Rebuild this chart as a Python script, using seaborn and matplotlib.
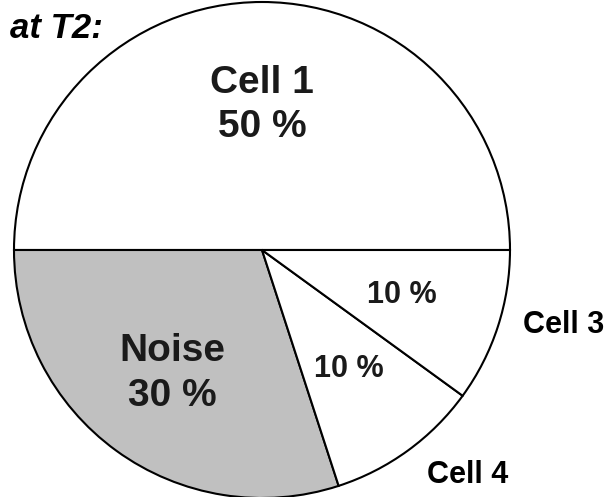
import numpy as np
import matplotlib
matplotlib.use("Agg")
import matplotlib.pyplot as plt
import seaborn as sns

# slices, counter-clockwise from 3 o'clock
names = ["Cell 1", "Noise", "Cell 4", "Cell 3"]
shares = [50, 30, 10, 10]
fills = ["white", "#c0c0c0", "white", "white"]

sns.set_theme(style="white")
plt.rcParams["font.family"] = ["Liberation Sans", "DejaVu Sans"]

fig = plt.figure(figsize=(6.15, 4.97), dpi=100)
ax = fig.add_axes([14 / 615, -1 / 497, 496 / 615, 496 / 497])

wedges, _ = ax.pie(shares, colors=fills, startangle=0, counterclock=True,
                   radius=1.0, wedgeprops=dict(edgecolor="black", linewidth=1.5))
ax.set_xlim(-1, 1)
ax.set_ylim(-1, 1)
ax.set_aspect("auto")
ax.axis("off")


def put(w, r, txt, size, color="#1a1a1a"):
    a = np.deg2rad((w.theta1 + w.theta2) / 2)
    ax.text(r * np.cos(a), r * np.sin(a), txt, ha="center", va="center",
            fontsize=size, fontweight="bold", color=color, linespacing=1.3)


put(wedges[0], 0.585, f"{names[0]}\n{shares[0]} %", 28)
put(wedges[1], 0.615, f"{names[1]}\n{shares[1]} %", 28)
put(wedges[2], 0.593, f"{shares[2]} %", 22)
put(wedges[3], 0.593, f"{shares[3]} %", 22)

# outside names
ax.text(1.218, -0.302, names[3], ha="center", va="center", fontsize=22,
        fontweight="bold", color="black", clip_on=False)
ax.text(0.83, -0.907, names[2], ha="center", va="center", fontsize=22,
        fontweight="bold", color="black", clip_on=False)

fig.text(10 / 615, 1 - 28 / 497, "at T2:", ha="left", va="center",
         fontsize=25, fontweight="bold", fontstyle="italic", color="black")

fig.savefig("out.png", dpi=100, facecolor="white")
